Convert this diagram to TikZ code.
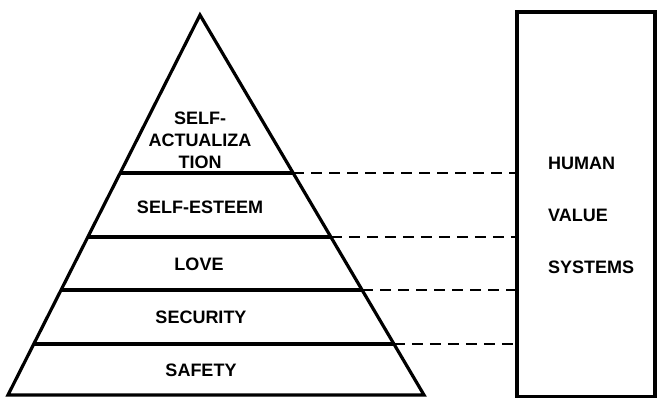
\documentclass[tikz,border=0pt]{standalone}
\usepackage{fontspec}
\setmainfont{Liberation Sans}
\usetikzlibrary{calc,positioning}
\tikzset{
  level/.style={
    font=\bfseries\fontsize{18}{22}\selectfont,
    inner sep=0pt,
    align=center,
  },
  edge/.style={line width=3.2pt, line join=miter},
  link/.style={line width=2.6pt, dash pattern=on 11pt off 7pt},
  valuebox/.style={
    draw,
    rectangle,
    minimum width=138pt,
    minimum height=385pt,
    inner sep=0pt,
    line width=3.2pt,
  },
}

\begin{document}
\begin{tikzpicture}[x=1pt,y=-1pt]
  \useasboundingbox (0,0) rectangle (658,398);
  \coordinate (apex) at (200,15);
  \coordinate (bl) at (8,395);
  \coordinate (br) at (424,395);
  \draw[edge] (bl) -- (apex) -- (br) -- cycle;
  \node[valuebox] (box) at (586,204.5) {};
  \foreach \t [count=\k] in {0.4158,0.584,0.7237,0.866} {
    \coordinate (L\k) at ($(apex)!\t!(bl)$);
    \coordinate (R\k) at ($(apex)!\t!(br)$);
    \draw[edge] (L\k) -- (R\k);
    \draw[link] (R\k) -- (R\k -| box.west);
  }
  % layers of the pyramid
  \node[level] (actual) at (200,140) {SELF-\\ACTUALIZA\\TION};
  \node[level] (esteem) at (200,207) {SELF-ESTEEM};
  \node[level] (love) at (199,264) {LOVE};
  \node[level] (security) at (201,317) {SECURITY};
  \node[level] (safety) at (201,370) {SAFETY};
  % value systems
  \foreach \w [count=\k] in {HUMAN,VALUE,SYSTEMS} {
    \node[level, anchor=west] (v\k) at (548,111+52*\k) {\w};
  }
\end{tikzpicture}
\end{document}
